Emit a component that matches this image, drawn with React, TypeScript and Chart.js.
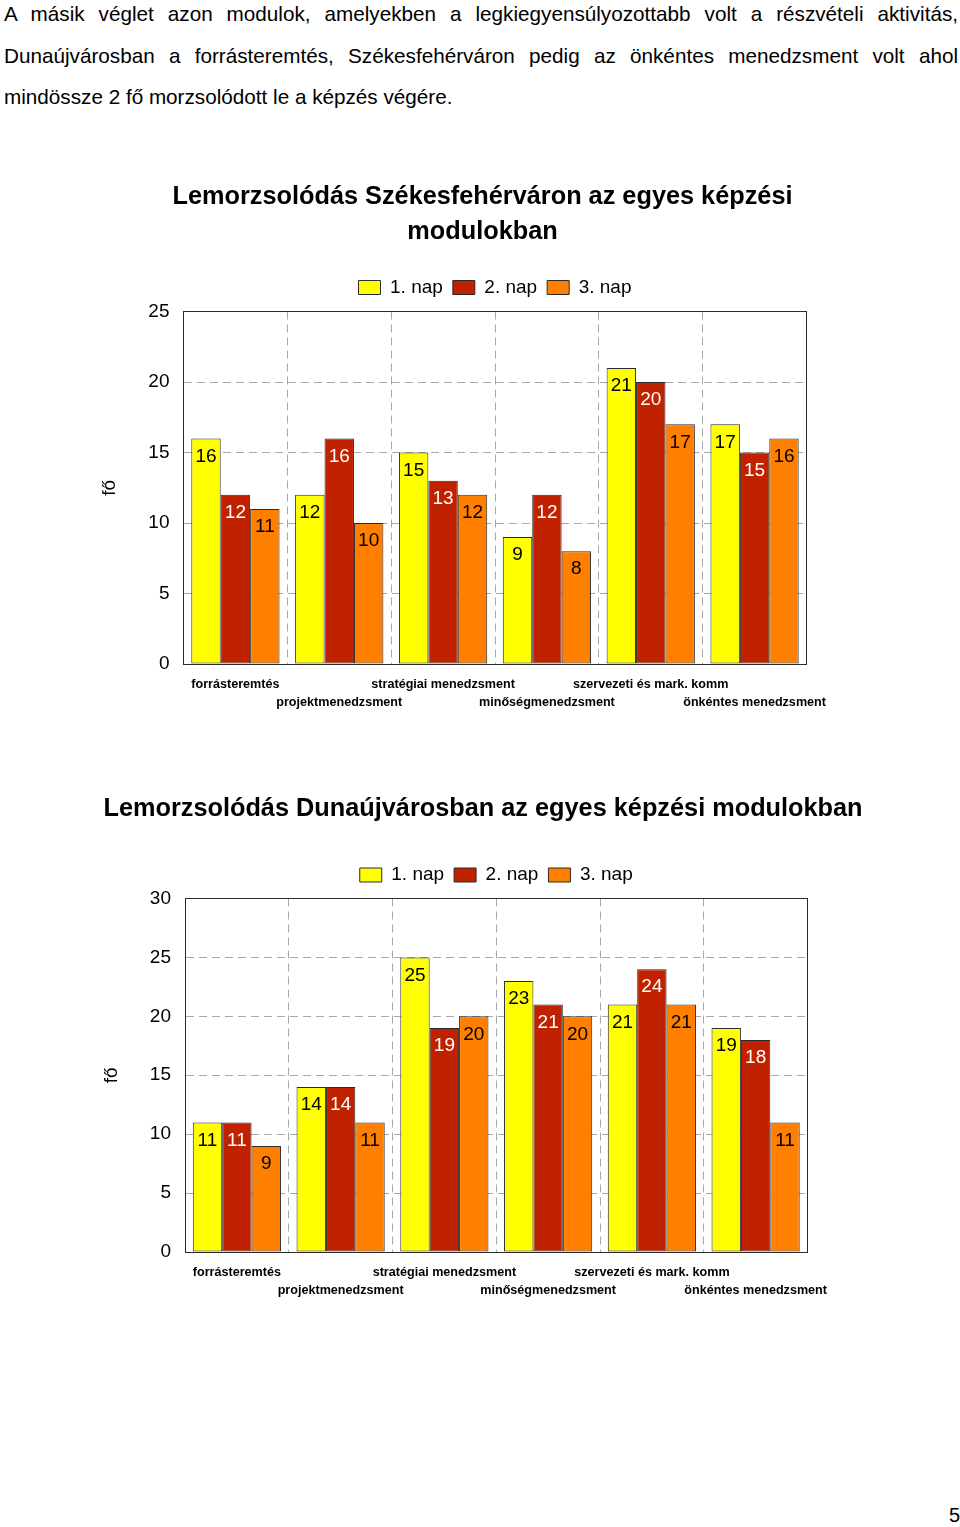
import React, { useEffect, useRef } from 'react';
import { Chart, registerables } from 'chart.js';

Chart.register(...registerables);

const FONT = "'Liberation Sans', Arial, Helvetica, sans-serif";
Chart.defaults.font.family = FONT;
Chart.defaults.color = '#000';

// ---------- data ----------
const paragraphLines = [
  'A másik véglet azon modulok, amelyekben a legkiegyensúlyozottabb volt a részvételi aktivitás,',
  'Dunaújvárosban a forrásteremtés, Székesfehérváron pedig az önkéntes menedzsment volt ahol',
  'mindössze 2 fő morzsolódott le a képzés végére.',
];

const modules = [
  'forrásteremtés',
  'projektmenedzsment',
  'stratégiai menedzsment',
  'minőségmenedzsment',
  'szervezeti és mark. komm',
  'önkéntes menedzsment',
];

const seriesNames = ['1. nap', '2. nap', '3. nap'];
const seriesColors = ['#FFFF00', '#C02200', '#FF8000'];
const valueLabelColors = ['#000000', '#FFFFFF', '#000000'];

const szfTitle = ['Lemorzsolódás Székesfehérváron az egyes képzési', 'modulokban'];
const szfDay1 = [16, 12, 15, 9, 21, 17];
const szfDay2 = [12, 16, 13, 12, 20, 15];
const szfDay3 = [11, 10, 12, 8, 17, 16];
const szfTicks = [0, 5, 10, 15, 20, 25];

const dujTitle = ['Lemorzsolódás Dunaújvárosban az egyes képzési modulokban'];
const dujDay1 = [11, 14, 25, 23, 21, 19];
const dujDay2 = [11, 14, 19, 21, 24, 18];
const dujDay3 = [9, 11, 20, 20, 21, 11];
const dujTicks = [0, 5, 10, 15, 20, 25, 30];

const yAxisTitle = 'fő';
const pageNumber = '5';

// ---------- plugins ----------
const alignPx = (p: number) => Math.round(p - 0.5) + 0.5;

const framePlugin = {
  id: 'plotFrame',
  afterDraw(chart: any) {
    const { ctx, chartArea } = chart;
    const l = alignPx(chartArea.left);
    const r = alignPx(chartArea.right);
    const t = alignPx(chartArea.top);
    const b = alignPx(chartArea.bottom);
    ctx.save();
    ctx.strokeStyle = '#2b2b2b';
    ctx.lineWidth = 1;
    ctx.setLineDash([]);
    ctx.strokeRect(l, t, r - l, b - t);
    ctx.restore();
  },
};

const valueLabelPlugin = {
  id: 'valueLabels',
  afterDatasetsDraw(chart: any) {
    const { ctx } = chart;
    ctx.save();
    ctx.font = `19px ${FONT}`;
    ctx.textAlign = 'center';
    ctx.textBaseline = 'middle';
    chart.data.datasets.forEach((ds: any, i: number) => {
      const meta = chart.getDatasetMeta(i);
      meta.data.forEach((bar: any, j: number) => {
        ctx.fillStyle = valueLabelColors[i];
        ctx.fillText(String(ds.data[j]), bar.x, bar.y + 18);
      });
    });
    ctx.restore();
  },
};

type Cfg = {
  title: string[];
  titlePad: { top: number; bottom: number };
  series: number[][];
  ticks: number[];
  yAxisWidth: number;
  yTitlePad: number;
  xAxisHeight: number;
  rightSpace: number;
  spacer: number;
};

function makeConfig(c: Cfg): any {
  const labels = modules.map((m, i) => (i % 2 === 0 ? [m, ''] : ['', m]));
  return {
    type: 'bar',
    data: {
      labels,
      datasets: c.series.map((data, i) => ({
        label: seriesNames[i],
        data,
        yAxisID: 'y',
        backgroundColor: seriesColors[i],
        borderColor: '#2b2b2b',
        borderWidth: 1,
        borderSkipped: false,
        categoryPercentage: 0.85,
        barPercentage: 1.0,
      })),
    },
    options: {
      responsive: false,
      animation: false,
      devicePixelRatio: 1,
      layout: { padding: 0 },
      plugins: {
        title: {
          display: true,
          text: c.title,
          color: '#000',
          font: { size: 25.3, weight: 'bold', lineHeight: '35.5px' },
          padding: c.titlePad,
        },
        subtitle: {
          display: true,
          text: '',
          weight: 500,
          fullSize: false,
          padding: 0,
          font: { size: 4, lineHeight: `${c.spacer}px` },
        },
        legend: {
          display: true,
          position: 'top',
          fullSize: false,
          labels: {
            boxWidth: 22,
            boxHeight: 14,
            padding: 10,
            color: '#000',
            font: { size: 19 },
          },
        },
        tooltip: { enabled: false },
      },
      scales: {
        x: {
          offset: true,
          grid: {
            display: true,
            offset: true,
            color: '#a8a8a8',
            lineWidth: 1,
            drawTicks: false,
          },
          border: { display: true, color: '#2b2b2b', width: 1, dash: [8, 5] },
          ticks: {
            autoSkip: false,
            maxRotation: 0,
            minRotation: 0,
            padding: 12,
            color: '#000',
            font: { size: 12.6, weight: 'bold', lineHeight: '18px' },
          },
          afterFit: (scale: any) => {
            scale.height = c.xAxisHeight;
          },
        },
        y: {
          position: 'left',
          min: c.ticks[0],
          max: c.ticks[c.ticks.length - 1],
          grid: {
            display: true,
            color: '#a8a8a8',
            lineWidth: 1,
            drawTicks: false,
          },
          border: { display: true, color: '#2b2b2b', width: 1, dash: [8, 5] },
          ticks: {
            stepSize: c.ticks[1] - c.ticks[0],
            padding: 14,
            color: '#000',
            font: { size: 19 },
          },
          title: {
            display: true,
            text: yAxisTitle,
            color: '#000',
            font: { size: 19 },
            padding: { top: c.yTitlePad, bottom: 0 },
          },
          afterFit: (scale: any) => {
            scale.width = c.yAxisWidth;
          },
        },
        // empty right-hand box that only reserves space, so the title centres on the whole canvas
        yRightSpace: {
          position: 'right',
          display: true,
          min: c.ticks[0],
          max: c.ticks[c.ticks.length - 1],
          grid: { display: false, drawTicks: false },
          border: { display: false },
          ticks: { display: false },
          afterFit: (scale: any) => {
            scale.width = c.rightSpace;
          },
        },
      },
    },
    plugins: [framePlugin, valueLabelPlugin],
  };
}

function BarChart(props: { cfg: Cfg; left: number; top: number; width: number; height: number }) {
  const ref = useRef<HTMLCanvasElement>(null);
  useEffect(() => {
    const chart = new Chart(ref.current as HTMLCanvasElement, makeConfig(props.cfg));
    return () => chart.destroy();
  }, []);
  return (
    <canvas
      ref={ref}
      width={props.width}
      height={props.height}
      style={{ position: 'absolute', left: props.left, top: props.top, width: props.width, height: props.height }}
    />
  );
}

const szfCfg: Cfg = {
  title: szfTitle,
  titlePad: { top: 19.25, bottom: 17.75 },
  series: [szfDay1, szfDay2, szfDay3],
  ticks: szfTicks,
  yAxisWidth: 93.5,
  yTitlePad: 8.6,
  xAxisHeight: 56,
  rightSpace: 68.5,
  spacer: 4.5,
};

const dujCfg: Cfg = {
  title: dujTitle,
  titlePad: { top: 21.25, bottom: 28.75 },
  series: [dujDay1, dujDay2, dujDay3],
  ticks: dujTicks,
  yAxisWidth: 95,
  yTitlePad: 10.6,
  xAxisHeight: 58,
  rightSpace: 68.5,
  spacer: 4,
};

export default function App() {
  return (
    <div
      style={{
        position: 'absolute',
        left: 0,
        top: 0,
        width: 960,
        height: 1527,
        overflow: 'hidden',
        background: '#fff',
        fontFamily: FONT,
        color: '#000',
      }}
    >
      <div style={{ position: 'absolute', left: 4, top: -7.4, width: 954, fontSize: 20.7, lineHeight: '41.9px' }}>
        {paragraphLines.map((line, i) => (
          <div
            key={i}
            style={{
              textAlign: i < paragraphLines.length - 1 ? 'justify' : 'left',
              textAlignLast: i < paragraphLines.length - 1 ? 'justify' : 'left',
              whiteSpace: 'nowrap',
            } as any}
          >
            {line}
          </div>
        ))}
      </div>
      <BarChart cfg={szfCfg} left={90} top={160} width={785} height={560} />
      <BarChart cfg={dujCfg} left={90} top={770} width={786} height={540} />
      <div style={{ position: 'absolute', left: 949, top: 1504, fontSize: 20, lineHeight: '22px' }}>{pageNumber}</div>
    </div>
  );
}
